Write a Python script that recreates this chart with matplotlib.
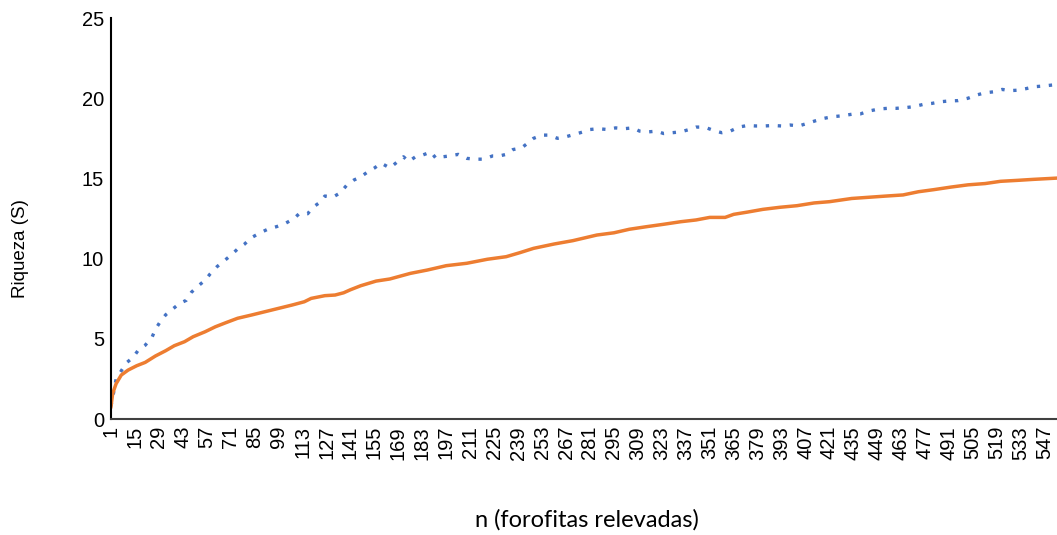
import numpy as np
import matplotlib.pyplot as plt

# curva de riqueza estimada (linea punteada azul)
n_estimada = [1, 3, 4, 7, 10, 14, 17, 21, 25, 27, 30, 33, 37, 41, 45, 48, 52, 56, 59, 63,
              67, 71, 75, 79, 83, 88, 93, 98, 103, 108, 111, 116, 119, 123, 126, 131, 135,
              139, 143, 147, 151, 155, 159, 164, 168, 172, 175, 179, 183, 188, 191, 195,
              199, 204, 209, 214, 219, 224, 228, 232, 236, 241, 244, 248, 253, 257, 262,
              267, 272, 277, 281, 286, 291, 296, 301, 306, 310, 315, 320, 324, 329, 334,
              339, 343, 348, 353, 358, 363, 368, 373, 378, 383, 388, 393, 398, 403, 408,
              413, 418, 423, 428, 434, 439, 444, 450, 455, 460, 465, 470, 476, 481, 486,
              491, 496, 502, 507, 512, 517, 522, 526, 531, 536, 541, 546, 551, 554]
s_estimada = [0.8, 1.9, 2.5, 3.0, 3.5, 3.85, 4.3, 4.6, 5.1, 5.6, 6.1, 6.5, 6.85, 7.2, 7.4,
              7.9, 8.3, 8.65, 9.05, 9.5, 9.85, 10.2, 10.6, 10.9, 11.3, 11.6, 11.85, 12.0,
              12.2, 12.5, 12.8, 12.8, 13.2, 13.5, 13.9, 13.85, 14.1, 14.6, 14.9, 15.1,
              15.4, 15.65, 15.95, 15.65, 16.0, 16.35, 16.05, 16.35, 16.45, 16.65, 16.25,
              16.35, 16.4, 16.5, 16.25, 16.2, 16.2, 16.4, 16.4, 16.5, 16.8, 16.9, 17.15,
              17.5, 17.7, 17.7, 17.5, 17.6, 17.75, 17.9, 18.05, 18.1, 18.05, 18.15, 18.1,
              18.15, 17.95, 17.9, 17.95, 17.8, 17.85, 17.9, 18.05, 18.2, 18.2, 18.0,
              17.85, 17.95, 18.2, 18.3, 18.27, 18.27, 18.3, 18.27, 18.33, 18.27, 18.43,
              18.6, 18.75, 18.85, 18.9, 19.0, 19.02, 19.2, 19.33, 19.37, 19.37, 19.41,
              19.47, 19.62, 19.68, 19.78, 19.83, 19.85, 20.0, 20.2, 20.34, 20.4, 20.55,
              20.47, 20.5, 20.6, 20.72, 20.76, 20.82, 20.85]

# curva de riqueza observada (linea naranja)
n_observada = [1, 2, 4, 7, 11, 16, 21, 27, 33, 38, 44, 49, 56, 62, 68, 75, 83, 91, 99, 107,
               114, 118, 126, 132, 137, 141, 147, 156, 164, 176, 186, 197, 209, 221, 232,
               240, 248, 260, 271, 281, 285, 295, 304, 314, 324, 334, 343, 351, 360, 365,
               373, 382, 392, 402, 412, 421, 434, 454, 464, 473, 482, 492, 502, 512, 521,
               531, 540, 554]
s_observada = [0.77, 1.6, 2.2, 2.74, 3.05, 3.32, 3.53, 3.93, 4.26, 4.57, 4.82, 5.13, 5.44,
               5.75, 6.0, 6.28, 6.48, 6.69, 6.9, 7.11, 7.31, 7.52, 7.69, 7.73, 7.87, 8.06,
               8.31, 8.6, 8.73, 9.08, 9.29, 9.56, 9.71, 9.96, 10.12, 10.37, 10.64, 10.91,
               11.12, 11.37, 11.47, 11.61, 11.83, 11.99, 12.14, 12.3, 12.41, 12.57, 12.57,
               12.76, 12.9, 13.07, 13.2, 13.3, 13.47, 13.55, 13.75, 13.9, 13.97, 14.17,
               14.3, 14.46, 14.6, 14.68, 14.82, 14.88, 14.94, 15.02]

x_ticks = list(range(1, 548, 14))
y_ticks = [0, 5, 10, 15, 20, 25]

fig = plt.figure(figsize=(10.57, 5.35), dpi=100)
ax = fig.add_axes([0.105, 0.2168, 0.895, 0.7495])

ax.plot(n_estimada, s_estimada, color='#4472C4', linewidth=2.4,
        linestyle=(0, (1, 2.6)), dash_capstyle='butt')
ax.plot(n_observada, s_observada, color='#ED7D31', linewidth=2.5)

ax.set_xlim(1, 554)
ax.set_ylim(0, 25)
ax.set_xticks(x_ticks)
ax.set_xticklabels([str(t) for t in x_ticks], rotation=90,
                   fontsize=14.5, family='Liberation Sans', color='#000000')
ax.set_yticks(y_ticks)
ax.set_yticklabels([str(t) for t in y_ticks], fontsize=14.5,
                   family='Liberation Sans', color='#000000')
ax.tick_params(length=0, pad=5)

for side in ['top', 'right']:
    ax.spines[side].set_visible(False)
ax.spines['left'].set_color('#000000')
ax.spines['left'].set_linewidth(1.5)
ax.spines['bottom'].set_color('#404040')
ax.spines['bottom'].set_linewidth(1.5)

fig.text(0.019, 0.535, 'Riqueza (S)', rotation=90, ha='center', va='center',
         fontsize=13.5, family='Liberation Sans')
fig.text(0.555, 0.028, 'n (forofitas relevadas)', ha='center', va='center',
         fontsize=17, family='Lato')

fig.savefig('out.png', dpi=100)
